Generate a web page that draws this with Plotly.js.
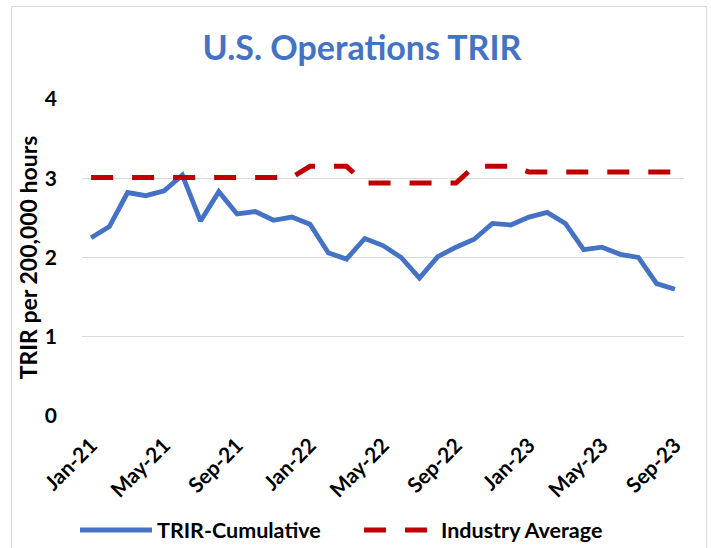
<!DOCTYPE html>
<html>
<head>
<meta charset="utf-8">
<script src="https://cdn.plot.ly/plotly-3.0.1.min.js"></script>
<style>
  html, body { margin: 0; padding: 0; background: #ffffff; }
  #wrap { position: relative; width: 711px; height: 548px; overflow: hidden; }
  #chart { position: absolute; left: 0; top: 0; width: 711px; height: 548px; }
  #frame { position: absolute; left: 11px; top: 6px; width: 694px; height: 560px; border: 1px solid #d9d9d9; pointer-events: none; }
</style>
</head>
<body>
<div id="wrap">
  <div id="chart"></div>
  <div id="frame"></div>
</div>
<script>
const months = ["Jan-21","Feb-21","Mar-21","Apr-21","May-21","Jun-21","Jul-21","Aug-21","Sep-21","Oct-21","Nov-21","Dec-21",
                "Jan-22","Feb-22","Mar-22","Apr-22","May-22","Jun-22","Jul-22","Aug-22","Sep-22","Oct-22","Nov-22","Dec-22",
                "Jan-23","Feb-23","Mar-23","Apr-23","May-23","Jun-23","Jul-23","Aug-23","Sep-23"];
const trirCumulative = [2.25, 2.39, 2.82, 2.78, 2.84, 3.04, 2.46, 2.83, 2.55, 2.58, 2.47, 2.51,
                        2.42, 2.06, 1.98, 2.24, 2.15, 2.00, 1.74, 2.01, 2.13, 2.23, 2.43, 2.41,
                        2.51, 2.57, 2.43, 2.10, 2.13, 2.04, 2.00, 1.67, 1.60];
const industryAverage = [3.01, 3.01, 3.01, 3.01, 3.01, 3.01, 3.01, 3.01, 3.01, 3.01, 3.01, 3.01,
                         3.15, 3.15, 3.15, 2.94, 2.94, 2.94, 2.94, 2.94, 2.94, 3.15, 3.15, 3.15,
                         3.08, 3.08, 3.08, 3.08, 3.08, 3.08, 3.08, 3.08, 3.08];
const tickMonths = ["Jan-21","May-21","Sep-21","Jan-22","May-22","Sep-22","Jan-23","May-23","Sep-23"];
const yTicks = [0, 1, 2, 3, 4];

const FONT = "Lato, 'Open Sans', sans-serif";
const idx = months.map((m, i) => i);
const tickIdx = tickMonths.map(m => months.indexOf(m));

const traces = [
  {
    x: idx, y: trirCumulative, name: "TRIR-Cumulative", type: "scatter", mode: "lines",
    line: { color: "#4472C4", width: 4.8 },
    text: months, hovertemplate: "%{text}: %{y}<extra></extra>"
  },
  {
    x: idx, y: industryAverage, name: "Industry Average", type: "scatter", mode: "lines",
    line: { color: "#C00000", width: 5, dash: "22px,19px" },
    text: months, hovertemplate: "%{text}: %{y}<extra></extra>"
  }
];

const layout = {
  width: 711, height: 548,
  margin: { l: 82, r: 27, t: 99, b: 132 },
  paper_bgcolor: "#ffffff", plot_bgcolor: "#ffffff",
  font: { family: FONT, color: "#000000" },
  title: {
    text: "U.S. Operations TRIR",
    font: { family: FONT, size: 34, color: "#4472C4", weight: "bold" },
    x: 362 / 711, xref: "container", xanchor: "center",
    y: 1 - 48 / 548, yref: "container", yanchor: "middle"
  },
  xaxis: {
    type: "linear",
    range: [-0.5, months.length - 0.5],
    tickmode: "array", tickvals: tickIdx, ticktext: tickMonths,
    tickangle: -45,
    tickfont: { family: FONT, size: 21, weight: "bold", color: "#000000" },
    showgrid: false, zeroline: false, showline: false, ticks: "",
    ticklabelstandoff: 12,
    fixedrange: true
  },
  yaxis: {
    range: [0, 4],
    tickmode: "array", tickvals: yTicks,
    tickfont: { family: FONT, size: 21, weight: "bold", color: "#000000" },
    showgrid: true, gridcolor: "#d9d9d9", gridwidth: 1,
    zeroline: false, showline: false, ticks: "",
    ticklabelstandoff: 24,
    title: { text: "TRIR per 200,000 hours", font: { family: FONT, size: 23, weight: "bold", color: "#000000" }, standoff: 0 },
    automargin: false,
    fixedrange: true
  },
  showlegend: true,
  legend: {
    orientation: "h",
    x: 75 / 711, xref: "container", xanchor: "left",
    y: 1 - 530 / 548, yref: "container", yanchor: "middle",
    font: { family: FONT, size: 21.5, weight: "bold", color: "#000000" },
    itemwidth: 72,
    entrywidth: 197, entrywidthmode: "pixels",
    traceorder: "normal",
    bgcolor: "rgba(0,0,0,0)"
  }
};

Plotly.newPlot("chart", traces, layout, { displayModeBar: false, staticPlot: true });
</script>
</body>
</html>
